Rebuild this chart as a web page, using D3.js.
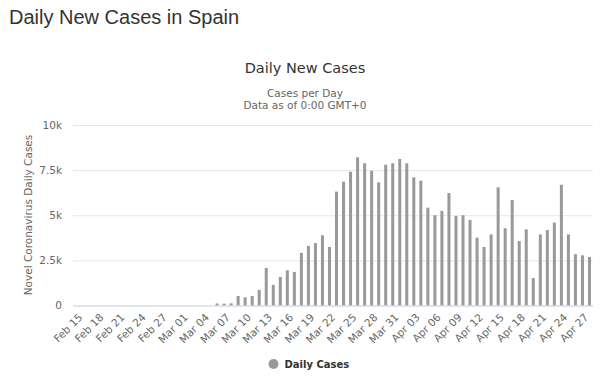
<!DOCTYPE html>
<html>
<head>
<meta charset="utf-8">
<script src="https://cdn.jsdelivr.net/npm/d3@7"></script>
<style>
  html, body { margin: 0; padding: 0; background: #fff; }
  svg { display: block; }
</style>
</head>
<body>
<svg id="chart" width="600" height="379"></svg>
<script>
const pageTitle = "Daily New Cases in Spain";
const chartTitle = "Daily New Cases";
const subtitle1 = "Cases per Day";
const subtitle2 = "Data as of 0:00 GMT+0";
const yAxisTitle = "Novel Coronavirus Daily Cases";
const seriesName = "Daily Cases";

const startDate = "2020-02-15";
const dayCount = 74;
const dailyCases = [
  0, 0, 0, 0, 0, 0, 0, 0, 0, 0,
  0, 0, 0, 0, 0, 0, 0, 0, 0, 0,
  110, 100, 120, 530, 450, 530, 860, 2080, 1140, 1580,
  1950, 1860, 2910, 3300, 3460, 3890, 3240, 6310, 6860, 7410,
  8210, 7880, 7470, 6820, 7800, 7880, 8120, 7880, 7100, 6920,
  5420, 5000, 5240, 6230, 4960, 5000, 4740, 3760, 3240, 3940,
  6550, 4280, 5850, 3570, 4220, 1520, 3940, 4180, 4590, 6690,
  3940, 2840, 2780, 2690
];
const yTicks = [0, 2500, 5000, 7500, 10000];
const yTickLabels = ["0", "2.5k", "5k", "7.5k", "10k"];
const labelEvery = 3;

(function () {
const parse = d3.timeParse("%Y-%m-%d");
const fmt = d3.timeFormat("%b %d");
const start = parse(startDate);
const dates = d3.range(dayCount).map(i => d3.timeDay.offset(start, i));
const data = dates.map((d, i) => ({date: d, label: fmt(d), value: dailyCases[i]}));

const svg = d3.select("#chart");
const chartFont = "'DejaVu Sans', Verdana, sans-serif";

const pLeft = 73, pRight = 593, pTop = 125, pBottom = 305.5;

const x = d3.scaleBand().domain(data.map(d => d.label)).range([pLeft, pRight]).padding(0);
const y = d3.scaleLinear().domain([0, 10000]).range([pBottom, pTop]);

// page title
svg.append("text").attr("x", 9).attr("y", 24)
  .attr("font-family", "'Liberation Sans', Arial, sans-serif")
  .attr("font-size", 20).attr("fill", "#333").text(pageTitle);

// chart title & subtitles
svg.append("text").attr("x", 305).attr("y", 72.5).attr("text-anchor", "middle")
  .attr("font-family", chartFont).attr("font-size", 14.5).attr("fill", "#333").text(chartTitle);
svg.append("text").attr("x", 305).attr("y", 96.5).attr("text-anchor", "middle")
  .attr("font-family", chartFont).attr("font-size", 10.5).attr("fill", "#666").text(subtitle1);
svg.append("text").attr("x", 305).attr("y", 108.5).attr("text-anchor", "middle")
  .attr("font-family", chartFont).attr("font-size", 10.5).attr("fill", "#666").text(subtitle2);

// gridlines
const yAxis = d3.axisLeft(y).tickValues(yTicks).tickSize(-(pRight - pLeft))
  .tickFormat((d, i) => yTickLabels[i]);
const gy = svg.append("g").attr("transform", `translate(${pLeft},0)`).call(yAxis);
gy.select(".domain").remove();
gy.selectAll(".tick line").attr("stroke", "#e6e6e6").attr("stroke-width", 1);
gy.selectAll(".tick text").attr("x", -11).attr("fill", "#666")
  .attr("font-family", chartFont).attr("font-size", 10.5);

// y axis title
svg.append("text")
  .attr("transform", `translate(32,215) rotate(-90)`)
  .attr("text-anchor", "middle")
  .attr("font-family", chartFont).attr("font-size", 10.5).attr("fill", "#666")
  .text(yAxisTitle);

// bars
const barW = 3;
svg.append("g").selectAll("rect").data(data).join("rect")
  .attr("x", d => x(d.label) + x.bandwidth() / 2 - barW / 2)
  .attr("y", d => y(d.value))
  .attr("width", barW)
  .attr("height", d => pBottom - y(d.value))
  .attr("fill", "#999");

// x axis
const xAxis = d3.axisBottom(x)
  .tickValues(data.filter((d, i) => i % labelEvery === 0).map(d => d.label))
  .tickSize(0);
const gx = svg.append("g").attr("transform", `translate(0,${pBottom})`).call(xAxis);
gx.select(".domain").attr("stroke", "#ccd6eb").attr("d", `M${pLeft},0.5H${pRight}`);
gx.selectAll(".tick text")
  .attr("font-family", chartFont).attr("font-size", 10.5).attr("fill", "#666")
  .attr("text-anchor", "end")
  .attr("transform", "translate(4,10) rotate(-45)")
  .attr("y", 0).attr("dy", "0.35em");

// legend
svg.append("circle").attr("cx", 273.5).attr("cy", 364).attr("r", 5).attr("fill", "#999");
svg.append("text").attr("x", 284.5).attr("y", 367.5)
  .attr("font-family", chartFont).attr("font-size", 10).attr("font-weight", "bold")
  .attr("fill", "#333").text(seriesName);
})();
</script>
</body>
</html>
